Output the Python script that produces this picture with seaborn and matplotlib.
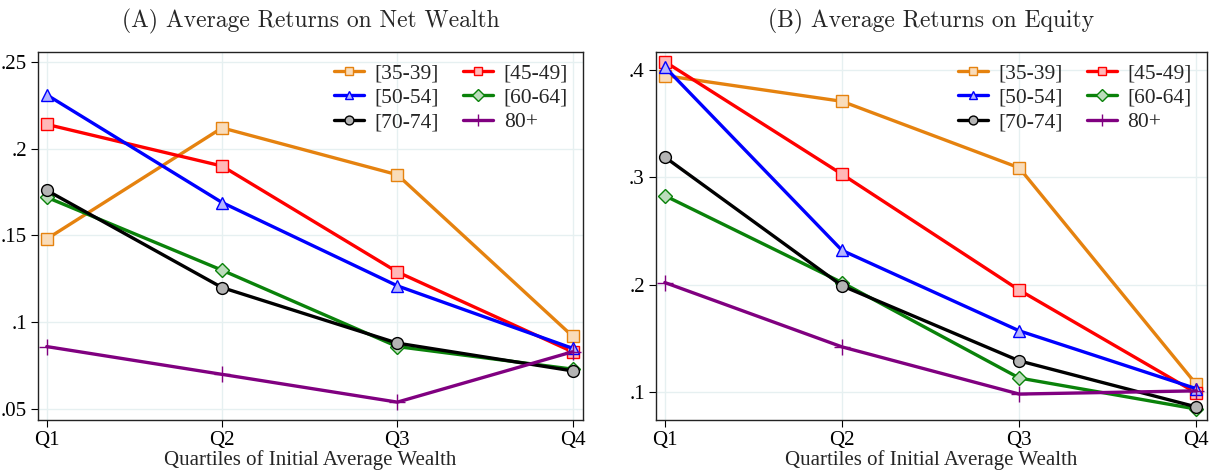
import numpy as np
import pandas as pd
import matplotlib
matplotlib.use("Agg")
import matplotlib.pyplot as plt
import seaborn as sns
from matplotlib.ticker import FuncFormatter

# Data
quartiles = ["Q1", "Q2", "Q3", "Q4"]
age_groups = ["[35-39]", "[45-49]", "[50-54]", "[60-64]", "[70-74]", "80+"]

net_35_39 = [0.148, 0.212, 0.185, 0.092]
net_45_49 = [0.214, 0.190, 0.129, 0.083]
net_50_54 = [0.231, 0.169, 0.121, 0.085]
net_60_64 = [0.172, 0.130, 0.086, 0.073]
net_70_74 = [0.176, 0.120, 0.088, 0.072]
net_80p = [0.086, 0.070, 0.054, 0.083]

eq_35_39 = [0.395, 0.371, 0.309, 0.107]
eq_45_49 = [0.408, 0.303, 0.195, 0.099]
eq_50_54 = [0.403, 0.232, 0.157, 0.103]
eq_60_64 = [0.283, 0.202, 0.113, 0.084]
eq_70_74 = [0.319, 0.199, 0.129, 0.086]
eq_80p = [0.202, 0.142, 0.098, 0.101]

net_ticks = [0.05, 0.1, 0.15, 0.2, 0.25]
eq_ticks = [0.1, 0.2, 0.3, 0.4]

# line colour, marker, marker face colour
styles = {
    "[35-39]": ("#e5820f", "s", "#f9dcba"),
    "[45-49]": ("#ff0000", "s", "#ffb8b8"),
    "[50-54]": ("#0000ff", "^", "#b4b4ff"),
    "[60-64]": ("#0a820a", "D", "#bcdcbc"),
    "[70-74]": ("#000000", "o", "#b4b4b4"),
    "80+": ("#800080", "+", "#800080"),
}


def long_df(series):
    rows = []
    for grp, vals in zip(age_groups, series):
        for i, v in enumerate(vals):
            rows.append({"q": i, "age": grp, "ret": v})
    return pd.DataFrame(rows)


df_net = long_df([net_35_39, net_45_49, net_50_54, net_60_64, net_70_74, net_80p])
df_eq = long_df([eq_35_39, eq_45_49, eq_50_54, eq_60_64, eq_70_74, eq_80p])

sns.set_style("white")
plt.rcParams["font.family"] = ["Liberation Serif", "DejaVu Serif"]

fig = plt.figure(figsize=(12.15, 4.74), dpi=100)
ax1 = fig.add_axes([0.0313, 0.1139, 0.4486, 0.7764])
ax2 = fig.add_axes([0.5399, 0.1139, 0.4535, 0.7764])

fmt = FuncFormatter(lambda v, p: ("%g" % v).lstrip("0"))


def draw(ax, df, ticks, ylim, title):
    for grp in age_groups:
        col, mk, fc = styles[grp]
        sub = df[df["age"] == grp]
        ms = 11 if mk == "+" else (7.5 if mk == "D" else 8.5)
        sns.lineplot(data=sub, x="q", y="ret", ax=ax, color=col, lw=2.4,
                     marker=mk, markersize=ms, markerfacecolor=fc,
                     markeredgecolor=col, markeredgewidth=1.0, label=grp)
    ax.set_xlim(-0.05, 3.06)
    ax.set_ylim(*ylim)
    ax.set_xticks(range(4))
    ax.set_xticklabels(quartiles)
    ax.set_yticks(ticks)
    ax.yaxis.set_major_formatter(fmt)
    ax.grid(True, color="#e6f0f1", lw=1.0)
    ax.set_axisbelow(True)
    ax.tick_params(axis="both", direction="out", length=5, width=0.8,
                   labelsize=15, left=True, bottom=True, colors="black", pad=3)
    for s in ax.spines.values():
        s.set_color("#222222")
        s.set_linewidth(1.0)
    ax.set_xlabel("Quartiles of Initial Average Wealth", fontsize=15, labelpad=0)
    ax.set_ylabel("")
    ax.set_title(title, fontsize=17, family="cmr10", pad=18)
    h, l = ax.get_legend_handles_labels()
    order = [0, 2, 4, 1, 3, 5]
    ax.legend([h[i] for i in order], [l[i] for i in order], ncol=2,
              loc="upper right", frameon=False, fontsize=15.5,
              handlelength=1.4, handletextpad=0.5, columnspacing=1.1,
              labelspacing=0.2, markerscale=0.75, borderaxespad=0.3,
              bbox_to_anchor=(1.0, 1.01))


draw(ax1, df_net, net_ticks, (0.0437, 0.2557), "(A) Average Returns on Net Wealth")
draw(ax2, df_eq, eq_ticks, (0.0738, 0.417), "(B) Average Returns on Equity")

fig.savefig("out.png", dpi=100)
